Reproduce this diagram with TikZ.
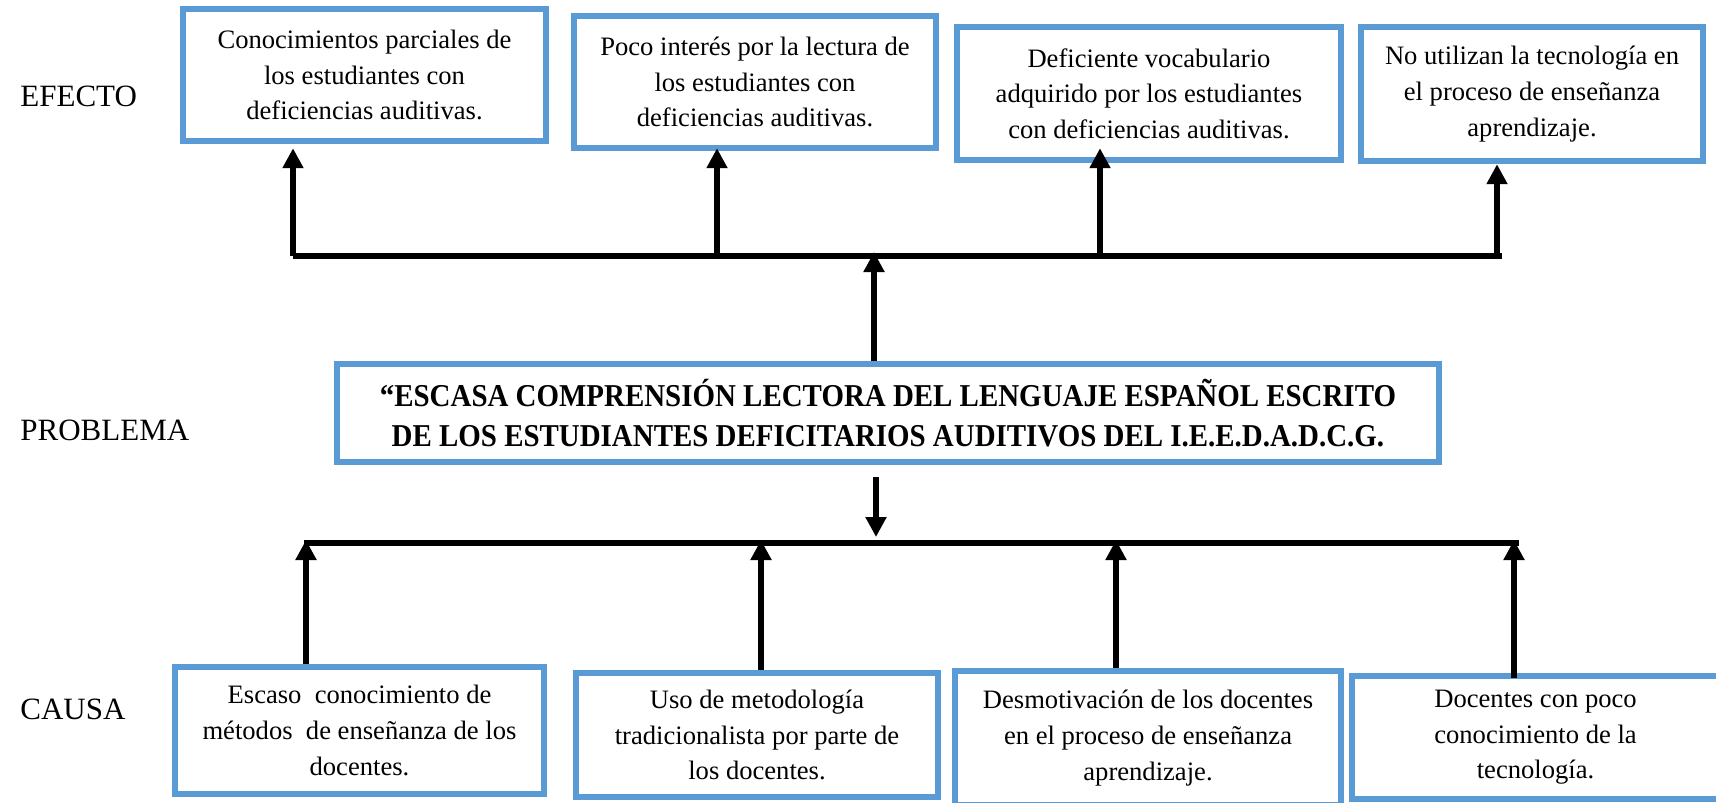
\documentclass[tikz,border=0pt]{standalone}
\usepackage{fontspec}
\setmainfont{Liberation Serif}
\newfontfamily\problemfont[FakeStretch=0.91]{Liberation Serif}
\usetikzlibrary{arrows.meta,calc,positioning}
\definecolor{boxblue}{HTML}{5B9BD5}
\tikzset{
  tree box/.style={
     rectangle,
     draw=boxblue,
     line width=3.25pt,
     fill=white,
     align=center,
     inner sep=0pt,
     font=\fontsize{13.3}{17.8}\selectfont
  },
  problem box/.style={
     tree box,
     font=\problemfont\fontsize{15.9}{20}\selectfont\bfseries
  },
  row label/.style={
     anchor=west,
     inner sep=0pt,
     font=\fontsize{15.5}{18}\selectfont
  },
  branch line/.style={line width=3.25pt},
  arrow line/.style={line width=3.25pt, -{Triangle[width=10pt,length=10pt]}},
}

\begin{document}
\begin{tikzpicture}[x=0.5pt, y=-0.5pt]
  \useasboundingbox (0,0) rectangle (1716,802);
  \clip (0,0) rectangle (1716,802);

  % Row labels
  \node[row label] (efecto) at (20,96) {EFECTO};
  \node[row label] (problema) at (20,430) {PROBLEMA};
  \node[row label] (causa) at (20,709) {CAUSA};

  % Effects
  \node[tree box, minimum width=181.5pt, minimum height=66pt] (E1) at (364.5,75)
     {Conocimientos parciales de\\los estudiantes con\\deficiencias auditivas.};
  \node[tree box, minimum width=181pt, minimum height=66pt] (E2) at (755,82)
     {Poco interés por la lectura de\\los estudiantes con\\deficiencias auditivas.};
  \node[tree box, minimum width=192pt, minimum height=66.5pt] (E3) at (1149,93.5)
     {Deficiente vocabulario\\adquirido por los estudiantes\\con deficiencias auditivas.};
  \node[tree box, minimum width=171pt, minimum height=67pt] (E4) at (1532,94)
     {No utilizan la tecnología en\\el proceso de enseñanza\\aprendizaje.};

  % Problem
  \node[problem box, minimum width=551pt, minimum height=49pt] (P) at (888,413)
     {“ESCASA COMPRENSIÓN LECTORA DEL LENGUAJE ESPAÑOL ESCRITO\\DE LOS ESTUDIANTES DEFICITARIOS AUDITIVOS DEL I.E.E.D.A.D.C.G.};

  % Causes
  \node[tree box, minimum width=184.5pt, minimum height=63.5pt] (C1) at (359.5,730.5)
     {Escaso\ \ conocimiento de\\métodos\ \ de enseñanza de los\\docentes.};
  \node[tree box, minimum width=181pt, minimum height=62pt] (C2) at (757,735)
     {Uso de metodología\\tradicionalista por parte de\\los docentes.};
  \node[tree box, minimum width=193pt, minimum height=67pt] (C3) at (1148,738)
     {Desmotivación de los docentes\\en el proceso de enseñanza\\aprendizaje.};
  \node[tree box, minimum width=183.5pt, minimum height=61.5pt] (C4) at (1535.5,737.5)
     {Docentes con poco\\conocimiento de la\\tecnología.};

  % Branch points
  \coordinate (j1) at (293,256);
  \coordinate (j2) at (717,256);
  \coordinate (j3) at (1100,256);
  \coordinate (j4) at (1497,256);
  \coordinate (jr) at (1502,256);
  \coordinate (jc) at (874,256);
  \coordinate (b1) at (306,543);
  \coordinate (b2) at (761,543);
  \coordinate (b3) at (1116,543);
  \coordinate (b4) at (1514,543);
  \coordinate (bl) at (304,543);
  \coordinate (br) at (1519,543);
  \coordinate (bc) at (876,543);

  % Effect side
  \draw[branch line] (j1) -- (jr);
  \draw[arrow line, shorten >=2pt] (j1) -- (j1 |- E1.south);
  \draw[arrow line, shorten >=-1.5pt] (j2) -- (j2 |- E2.south);
  \draw[arrow line, shorten >=-7.5pt] (j3) -- (j3 |- E3.south);
  \draw[arrow line] (j4) -- (j4 |- E4.south);
  \draw[arrow line, shorten >=-2pt] (P.north -| jc) -- (jc);

  % Cause side
  \draw[branch line] (bl) -- (br);
  \draw[arrow line, shorten <=6pt, shorten >=3pt] (P.south -| bc) -- (bc);
  \draw[arrow line, shorten >=-1.5pt] (C1.north -| b1) -- (b1);
  \draw[arrow line, shorten >=-1.5pt] (C2.north -| b2) -- (b2);
  \draw[arrow line, shorten >=-1.5pt] (C3.north -| b3) -- (b3);
  \draw[arrow line, shorten <=-2.5pt, shorten >=-1.5pt] (C4.north -| b4) -- (b4);
\end{tikzpicture}
\end{document}
